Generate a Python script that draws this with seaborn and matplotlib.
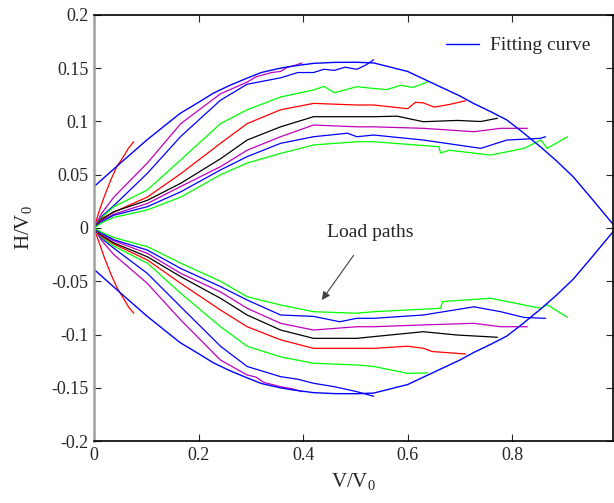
import numpy as np
import pandas as pd
import seaborn as sns
import matplotlib
matplotlib.use('Agg')
import matplotlib.pyplot as plt

# fitting curve (upper half, lower half is its mirror)
fit_v = [0.0, 0.05, 0.101, 0.13, 0.165, 0.2, 0.228, 0.26, 0.292, 0.32, 0.356, 0.38,
         0.42, 0.46, 0.503, 0.535, 0.60, 0.662, 0.70, 0.726, 0.76, 0.79, 0.82,
         0.854, 0.885, 0.917, 0.955, 0.994]
fit_h = [0.0388, 0.0607, 0.0826, 0.094, 0.1077, 0.118, 0.1265, 0.134, 0.1405, 0.146,
         0.150, 0.152, 0.1546, 0.1555, 0.1556, 0.155, 0.147, 0.1327, 0.124, 0.117,
         0.109, 0.1014, 0.090, 0.0763, 0.063, 0.048, 0.026, 0.003]

# load paths, upper branch
up = {
    'red_short': ([0.0, 0.01, 0.02, 0.032, 0.044, 0.055, 0.066, 0.076],
                  [0.0, 0.016, 0.03, 0.045, 0.058, 0.066, 0.075, 0.081], 'r'),
    'magenta1': ([0.0, 0.015, 0.038, 0.102, 0.166, 0.242, 0.293, 0.31, 0.325, 0.34, 0.357, 0.37, 0.38, 0.398],
                 [0.0, 0.014, 0.029, 0.061, 0.098, 0.126, 0.137, 0.142, 0.144, 0.146, 0.147, 0.151, 0.152, 0.155], 'm'),
    'blue1': ([0.0, 0.015, 0.038, 0.102, 0.166, 0.242, 0.293, 0.357, 0.39, 0.42, 0.44, 0.46, 0.48, 0.503, 0.52, 0.535],
              [0.0, 0.011, 0.021, 0.0513, 0.086, 0.120, 0.135, 0.141, 0.146, 0.146, 0.149, 0.148, 0.151, 0.149, 0.153, 0.158], 'b'),
    'green1': ([0.0, 0.015, 0.038, 0.102, 0.166, 0.242, 0.293, 0.357, 0.42, 0.44, 0.46, 0.503, 0.535, 0.56, 0.587, 0.61, 0.638],
               [0.0, 0.010, 0.020, 0.0357, 0.064, 0.098, 0.111, 0.123, 0.1296, 0.133, 0.127, 0.1327, 0.131, 0.130, 0.134, 0.132, 0.137], 'lime'),
    'red2': ([0.0, 0.015, 0.038, 0.102, 0.166, 0.242, 0.293, 0.357, 0.42, 0.503, 0.535, 0.6, 0.615, 0.63, 0.651, 0.68, 0.711],
             [0.0, 0.009, 0.015, 0.029, 0.051, 0.0795, 0.098, 0.111, 0.117, 0.1155, 0.1155, 0.112, 0.118, 0.1175, 0.1135, 0.116, 0.1195], 'r'),
    'black': ([0.0, 0.015, 0.038, 0.102, 0.166, 0.242, 0.293, 0.357, 0.42, 0.503, 0.535, 0.58, 0.63, 0.695, 0.74, 0.772],
              [0.0, 0.008, 0.0153, 0.026, 0.042, 0.065, 0.0826, 0.095, 0.1045, 0.1045, 0.1045, 0.105, 0.0998, 0.101, 0.100, 0.103], 'k'),
    'magenta2': ([0.0, 0.015, 0.038, 0.102, 0.166, 0.242, 0.293, 0.357, 0.42, 0.503, 0.535, 0.63, 0.727, 0.778, 0.829],
                 [0.0, 0.007, 0.013, 0.023, 0.039, 0.0576, 0.073, 0.0857, 0.0967, 0.095, 0.095, 0.0936, 0.0904, 0.0936, 0.0936], 'm'),
    'blue2': ([0.0, 0.015, 0.038, 0.102, 0.166, 0.242, 0.293, 0.357, 0.42, 0.485, 0.503, 0.535, 0.63, 0.695, 0.74, 0.79, 0.854, 0.864],
              [0.0, 0.006, 0.012, 0.020, 0.034, 0.0545, 0.067, 0.0795, 0.0857, 0.089, 0.0857, 0.0873, 0.0826, 0.078, 0.0748, 0.0826, 0.0842, 0.0857], 'b'),
    'green2': ([0.0, 0.015, 0.038, 0.102, 0.166, 0.242, 0.293, 0.357, 0.42, 0.503, 0.535, 0.66, 0.663, 0.68, 0.759, 0.823, 0.855, 0.867, 0.906],
               [0.0, 0.005, 0.010, 0.017, 0.029, 0.050, 0.061, 0.070, 0.078, 0.081, 0.081, 0.0763, 0.0705, 0.073, 0.0685, 0.0748, 0.0826, 0.0748, 0.0857], 'lime'),
}

# load paths, lower branch
low = {
    'red_short': ([0.0, 0.01, 0.02, 0.032, 0.044, 0.055, 0.066, 0.076],
                  [0.0, -0.014, -0.028, -0.043, -0.056, -0.065, -0.074, -0.080], 'r'),
    'magenta1': ([0.0, 0.015, 0.038, 0.102, 0.166, 0.242, 0.293, 0.31, 0.325, 0.357, 0.38, 0.398],
                 [0.0, -0.012, -0.025, -0.052, -0.0864, -0.124, -0.138, -0.140, -0.145, -0.149, -0.151, -0.1537], 'm'),
    'blue1': ([0.0, 0.015, 0.038, 0.102, 0.166, 0.242, 0.293, 0.357, 0.39, 0.42, 0.46, 0.503, 0.535],
              [0.0, -0.010, -0.019, -0.0426, -0.074, -0.111, -0.130, -0.1396, -0.142, -0.1458, -0.149, -0.1537, -0.158], 'b'),
    'green1': ([0.0, 0.015, 0.038, 0.102, 0.166, 0.242, 0.293, 0.357, 0.42, 0.503, 0.535, 0.6, 0.638],
               [0.0, -0.009, -0.017, -0.033, -0.0613, -0.0927, -0.111, -0.121, -0.127, -0.1286, -0.130, -0.1365, -0.136], 'lime'),
    'red2': ([0.0, 0.015, 0.038, 0.102, 0.166, 0.242, 0.293, 0.357, 0.42, 0.503, 0.535, 0.6, 0.631, 0.647, 0.711],
             [0.0, -0.008, -0.015, -0.030, -0.052, -0.077, -0.0927, -0.105, -0.113, -0.113, -0.113, -0.111, -0.113, -0.116, -0.1183], 'r'),
    'black': ([0.0, 0.015, 0.038, 0.102, 0.166, 0.242, 0.293, 0.357, 0.42, 0.503, 0.535, 0.63, 0.695, 0.772],
              [0.0, -0.007, -0.014, -0.027, -0.0457, -0.066, -0.0817, -0.0958, -0.1036, -0.1036, -0.102, -0.0974, -0.1005, -0.1026], 'k'),
    'magenta2': ([0.0, 0.015, 0.038, 0.102, 0.166, 0.242, 0.293, 0.357, 0.42, 0.503, 0.535, 0.63, 0.727, 0.778, 0.829],
                 [0.0, -0.006, -0.012, -0.0238, -0.0426, -0.060, -0.0754, -0.0895, -0.0958, -0.0927, -0.0927, -0.091, -0.0895, -0.0927, -0.0927], 'm'),
    'blue2': ([0.0, 0.015, 0.038, 0.102, 0.166, 0.242, 0.293, 0.357, 0.42, 0.47, 0.503, 0.535, 0.63, 0.727, 0.778, 0.823, 0.864],
              [0.0, -0.005, -0.011, -0.0207, -0.038, -0.055, -0.0676, -0.0817, -0.083, -0.088, -0.0848, -0.0848, -0.0817, -0.074, -0.0786, -0.084, -0.0848], 'b'),
    'green2': ([0.0, 0.015, 0.038, 0.102, 0.166, 0.242, 0.293, 0.357, 0.42, 0.503, 0.535, 0.663, 0.667, 0.759, 0.823, 0.855, 0.867, 0.906],
               [0.0, -0.004, -0.009, -0.0175, -0.033, -0.050, -0.0645, -0.0723, -0.0786, -0.080, -0.0786, -0.0754, -0.069, -0.066, -0.0723, -0.0754, -0.072, -0.0839], 'lime'),
}

x_ticks = [0, 0.2, 0.4, 0.6, 0.8]
x_ticklabels = ['0', '0.2', '0.4', '0.6', '0.8']
y_ticks = [-0.2, -0.15, -0.1, -0.05, 0, 0.05, 0.1, 0.15, 0.2]
y_ticklabels = ['-0.2', '-0.15', '-0.1', '-0.05', '0', '0.05', '0.1', '0.15', '0.2']


def draw_paths(ax, paths):
    for name, (v, h, c) in paths.items():
        d = pd.DataFrame({'V': v, 'H': h})
        sns.lineplot(data=d, x='V', y='H', sort=False, estimator=None,
                     color=c, lw=0.9, ax=ax, legend=False)


if __name__ == '__main__':
    sns.set_style('ticks')
    plt.rcParams['font.family'] = ['Liberation Serif', 'DejaVu Serif']
    plt.rcParams['mathtext.fontset'] = 'custom'
    plt.rcParams['mathtext.rm'] = 'Liberation Serif'

    fig = plt.figure(figsize=(6.14, 5.03), dpi=100)
    ax = fig.add_axes([94 / 614, 62 / 503, 519 / 614, 426 / 503])

    draw_paths(ax, up)
    draw_paths(ax, low)

    fit = pd.DataFrame({'V': fit_v, 'H': fit_h})
    sns.lineplot(data=fit, x='V', y='H', sort=False, estimator=None,
                 color='b', lw=1, ax=ax, label='Fitting curve')
    fit_low = pd.DataFrame({'V': fit_v, 'H': [-h for h in fit_h]})
    sns.lineplot(data=fit_low, x='V', y='H', sort=False, estimator=None,
                 color='b', lw=1, ax=ax, legend=False)

    ax.set_xlim(0, 0.993)
    ax.set_ylim(-0.2, 0.2)
    ax.set_xticks(x_ticks)
    ax.set_xticklabels(x_ticklabels)
    ax.set_yticks(y_ticks)
    ax.set_yticklabels(y_ticklabels)
    ax.tick_params(direction='in', top=True, right=True, labelsize=13,
                   length=5, width=0.8, pad=4)
    for s in ax.spines.values():
        s.set_linewidth(1.2)
        s.set_color('black')
    ax.spines['left'].set_color('#a0a0a0')
    ax.spines['left'].set_linewidth(1.8)

    ax.set_xlabel('V/V$_{\\mathrm{0}}$', fontsize=15, labelpad=6)
    ax.set_ylabel('H/V$_{\\mathrm{0}}$', fontsize=15, labelpad=12)

    ax.legend(loc='upper right', frameon=False, fontsize=14,
              bbox_to_anchor=(0.99, 0.99), handlelength=1.7, handletextpad=0.55)

    ax.annotate('Load paths', xy=(0.436, -0.0676), xytext=(0.528, -0.004),
                fontsize=14, ha='center', va='center',
                arrowprops=dict(arrowstyle='-|>', color='#404040', lw=0.8,
                                shrinkA=10, shrinkB=0, mutation_scale=12))

    fig.savefig('out.png', dpi=100)
